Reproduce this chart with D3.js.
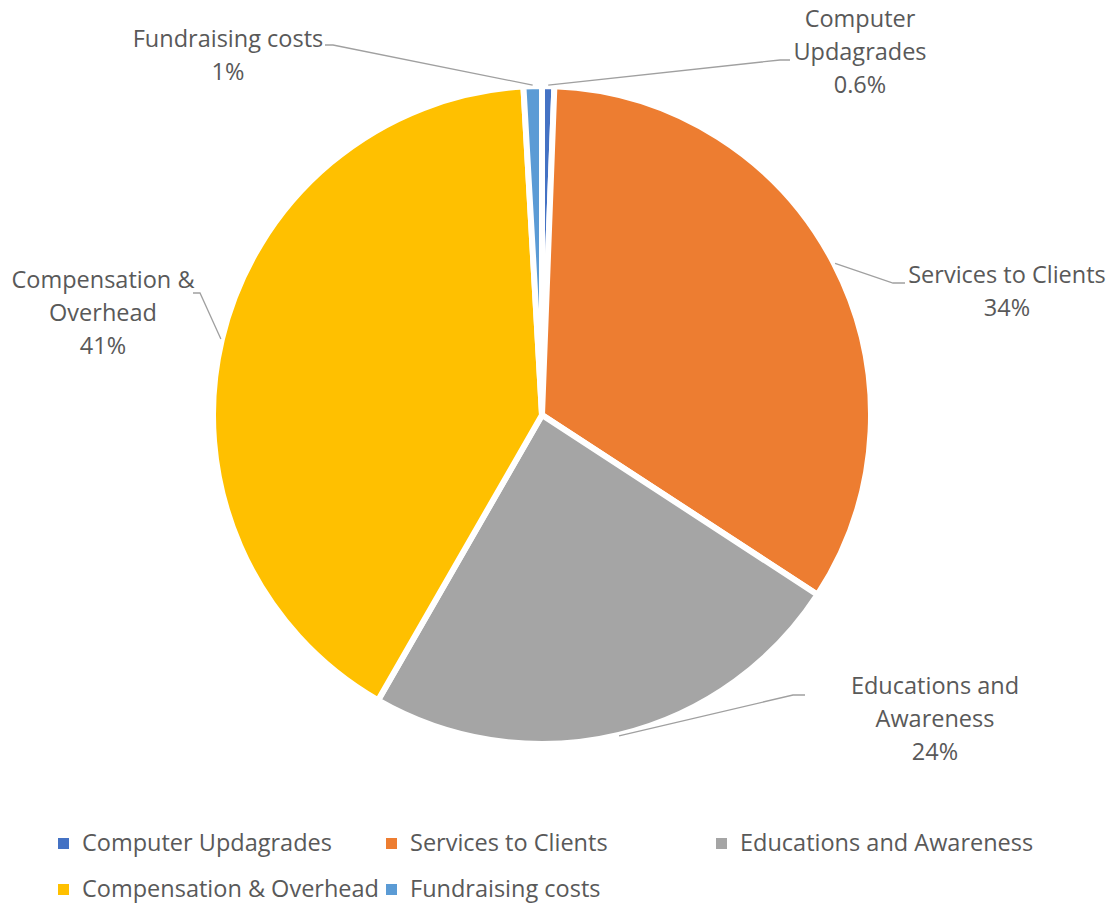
<!DOCTYPE html>
<html>
<head>
<meta charset="utf-8">
<script src="https://cdn.jsdelivr.net/npm/d3@7"></script>
<style>
  body { margin: 0; background: #fff; }
  text { font-family: "Open Sans", sans-serif; fill: #595959; }
</style>
</head>
<body>
<div id="chart"></div>
<script>
// data
var categories = ["Computer Updagrades", "Services to Clients", "Educations and Awareness", "Compensation & Overhead", "Fundraising costs"];
var values = [0.6, 33.6, 24.1, 40.8, 0.9];
var pctLabels = ["0.6%", "34%", "24%", "41%", "1%"];
var colors = ["#4472C4", "#ED7D31", "#A5A5A5", "#FFC000", "#5B9BD5"];

var width = 1116, height = 903;
var cx = 542, cy = 415, radius = 329;
var fontSize = "23.5px";

var svg = d3.select("#chart").append("svg")
  .attr("width", width)
  .attr("height", height);

var pie = d3.pie().sort(null).value(function (d) { return d; });
var arcs = pie(values);

var arc = d3.arc().innerRadius(0).outerRadius(radius);

var g = svg.append("g").attr("transform", "translate(" + cx + "," + cy + ")");

g.selectAll("path")
  .data(arcs)
  .enter()
  .append("path")
  .attr("d", arc)
  .attr("fill", function (d, i) { return colors[i]; })
  .attr("stroke", "#fff")
  .attr("stroke-width", 6)
  .attr("stroke-linejoin", "round");

// label layout: text centre x, first baseline y, elbow point (page coords)
var labelLayout = [
  { x: 860, y: 27, lines: ["Computer", "Updagrades"], elbow: [780, 60], end: [790, 60] },
  { x: 1007, y: 283, lines: ["Services to Clients"], elbow: [893, 283], end: [905, 283] },
  { x: 935, y: 694, lines: ["Educations and", "Awareness"], elbow: [793, 695], end: [805, 695] },
  { x: 103, y: 288, lines: ["Compensation &", "Overhead"], elbow: [200, 293], end: [193, 293] },
  { x: 228, y: 47, lines: ["Fundraising costs"], elbow: [333, 45], end: [325, 45] }
];
var lineH = 33;

// leader lines start on the rim at each slice's mid angle
arcs.forEach(function (d, i) {
  var L = labelLayout[i];
  var a = (d.startAngle + d.endAngle) / 2;
  var sx = cx + (radius + 1) * Math.sin(a);
  var sy = cy - (radius + 1) * Math.cos(a);
  svg.append("polyline")
    .attr("points", [[sx, sy], L.elbow, L.end].map(function (p) { return p.join(","); }).join(" "))
    .attr("fill", "none")
    .attr("stroke", "#a0a0a0")
    .attr("stroke-width", 1.3);

  var t = svg.append("text")
    .attr("text-anchor", "middle")
    .style("font-size", fontSize);
  L.lines.concat([pctLabels[i]]).forEach(function (s, k) {
    t.append("tspan").attr("x", L.x).attr("y", L.y + k * lineH).text(s);
  });
});

// legend
var legendPos = [[58, 843], [386, 843], [716, 843], [58, 889], [386, 889]];
var legend = svg.selectAll(".legend")
  .data(categories)
  .enter()
  .append("g")
  .attr("class", "legend")
  .attr("transform", function (d, i) { return "translate(" + legendPos[i][0] + "," + legendPos[i][1] + ")"; });

legend.append("rect")
  .attr("x", 0).attr("y", -5)
  .attr("width", 11).attr("height", 11)
  .attr("fill", function (d, i) { return colors[i]; });

legend.append("text")
  .attr("x", 24).attr("y", 8)
  .style("font-size", fontSize)
  .text(function (d) { return d; });
</script>
</body>
</html>
